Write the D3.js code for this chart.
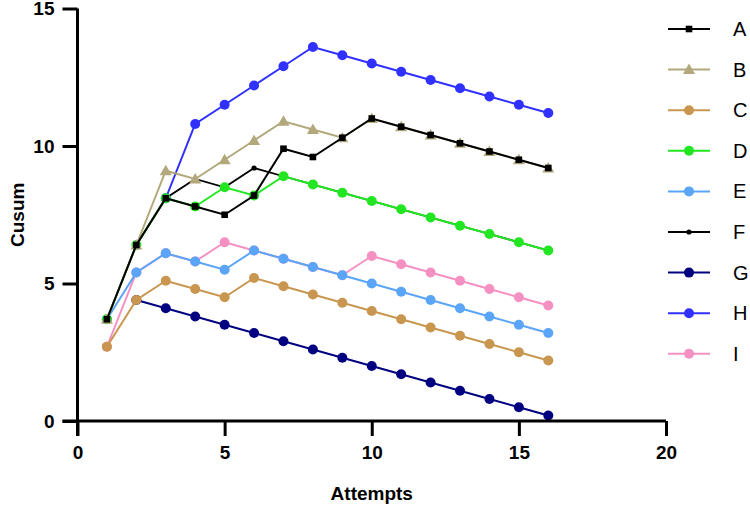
<!DOCTYPE html>
<html lang="en">
  <head>
    <meta charset="UTF-8" />
    <title>Cusum</title>
    <style>
      body { margin: 0; background: #fff; }
      text { font-family: 'Liberation Sans', Arial, sans-serif; }
    </style>
  </head>
  <body>
    <svg id="chart"></svg>
    <script src="https://d3js.org/d3.v7.min.js"></script>
    <script>
      // attempts 1..16, null where a series has no point yet
      const attempts = d3.range(1, 17);
      const seriesNames = ['A', 'B', 'C', 'D', 'E', 'F', 'G', 'H', 'I'];
      const seriesColors = ['#000000', '#b2a87b', '#c8964f', '#22e622', '#5aa5f7', '#000000', '#000080', '#3030ff', '#f590c2'];
      const seriesMarkers = ['square', 'triangle', 'circle', 'circle', 'circle', 'dot', 'circle', 'circle', 'circle'];

      const valuesA = [3.7, 6.4, 8.1, 7.8, 7.5, 8.2, 9.9, 9.6, 10.3, 11.0, 10.7, 10.4, 10.1, 9.8, 9.5, 9.2];
      const valuesB = [3.7, 6.4, 9.1, 8.8, 9.5, 10.2, 10.9, 10.6, 10.3, 11.0, 10.7, 10.4, 10.1, 9.8, 9.5, 9.2];
      const valuesC = [2.7, 4.4, 5.1, 4.8, 4.5, 5.2, 4.9, 4.6, 4.3, 4.0, 3.7, 3.4, 3.1, 2.8, 2.5, 2.2];
      const valuesD = [3.7, 6.4, 8.1, 7.8, 8.5, 8.2, 8.9, 8.6, 8.3, 8.0, 7.7, 7.4, 7.1, 6.8, 6.5, 6.2];
      const valuesE = [3.7, 5.4, 6.1, 5.8, 5.5, 6.2, 5.9, 5.6, 5.3, 5.0, 4.7, 4.4, 4.1, 3.8, 3.5, 3.2];
      const valuesF = [3.7, 6.4, 8.1, 8.8, 8.5, 9.2, 8.9, 8.6, 8.3, 8.0, 7.7, 7.4, 7.1, 6.8, 6.5, 6.2];
      const valuesG = [null, 4.4, 4.1, 3.8, 3.5, 3.2, 2.9, 2.6, 2.3, 2.0, 1.7, 1.4, 1.1, 0.8, 0.5, 0.2];
      const valuesH = [null, null, 8.1, 10.8, 11.5, 12.2, 12.9, 13.6, 13.3, 13.0, 12.7, 12.4, 12.1, 11.8, 11.5, 11.2];
      const valuesI = [2.7, 5.4, 6.1, 5.8, 6.5, 6.2, 5.9, 5.6, 5.3, 6.0, 5.7, 5.4, 5.1, 4.8, 4.5, 4.2];

      const xTicks = [0, 5, 10, 15, 20];
      const yTicks = [0, 5, 10, 15];

      const allValues = [valuesA, valuesB, valuesC, valuesD, valuesE, valuesF, valuesG, valuesH, valuesI];

      let width = 750;
      let height = 505;
      let margin = { top: 8.5, left: 77.5, right: 84, bottom: 84 };

      let svg = d3.select('#chart').attr('width', width).attr('height', height);

      let xScale = d3.scaleLinear().domain([0, 20]).range([margin.left, width - margin.right]);
      let yScale = d3.scaleLinear().domain([0, 15]).range([height - margin.bottom, margin.top]);

      let series = seriesNames.map((name, i) => ({
        name,
        color: seriesColors[i],
        marker: seriesMarkers[i],
        points: attempts
          .map((a, j) => ({ x: a, y: allValues[i][j] }))
          .filter((p) => p.y !== null),
      }));

      function drawMarker(g, type, color, cx, cy) {
        if (type === 'circle') {
          g.append('circle').attr('cx', cx).attr('cy', cy).attr('r', 5).attr('fill', color);
        } else if (type === 'dot') {
          g.append('circle').attr('cx', cx).attr('cy', cy).attr('r', 2.6).attr('fill', color);
        } else if (type === 'square') {
          g.append('rect').attr('x', cx - 3.3).attr('y', cy - 3.3).attr('width', 6.6).attr('height', 6.6).attr('fill', color);
        } else if (type === 'triangle') {
          let s = 6;
          g.append('path')
            .attr('d', `M${cx},${cy - s}L${cx + s},${cy + s * 0.75}L${cx - s},${cy + s * 0.75}Z`)
            .attr('fill', color);
        }
      }

      let line = d3.line().x((d) => xScale(d.x)).y((d) => yScale(d.y));

      // first series ends up on top, so draw in reverse
      let plot = svg.append('g');
      series.slice().reverse().forEach((s) => {
        let g = plot.append('g');
        g.append('path')
          .datum(s.points)
          .attr('d', line)
          .attr('fill', 'none')
          .attr('stroke', s.color)
          .attr('stroke-width', s.marker === 'dot' ? 1.8 : 2);
        s.points.forEach((p) => drawMarker(g, s.marker, s.color, xScale(p.x), yScale(p.y)));
      });

      // axes
      let axisX = d3.axisBottom(xScale).tickValues(xTicks).tickSize(15).tickPadding(10);
      let gx = svg.append('g')
        .attr('transform', `translate(0,${height - margin.bottom})`)
        .call(axisX);

      let axisY = d3.axisLeft(yScale).tickValues(yTicks).tickSize(15).tickPadding(8);
      let gy = svg.append('g')
        .attr('transform', `translate(${margin.left},0)`)
        .call(axisY);

      [gx, gy].forEach((g) => {
        g.select('.domain').attr('stroke', '#000').attr('stroke-width', 3);
        g.selectAll('.tick line').attr('stroke', '#000').attr('stroke-width', 3);
        g.selectAll('.tick text')
          .attr('fill', '#000')
          .style('font-family', "'Liberation Sans', Arial, sans-serif")
          .style('font-size', '19px')
          .style('font-weight', 'bold');
      });
      gx.select('.domain').attr('d', `M${margin.left - 15},0H${width - margin.right}`);
      gy.select('.domain').attr('d', `M0,${yScale(15)}V${height - margin.bottom + 15}`);

      svg.append('text')
        .attr('x', (margin.left + width - margin.right) / 2)
        .attr('y', 500)
        .attr('text-anchor', 'middle')
        .style('font-size', '19px')
        .style('font-weight', 'bold')
        .text('Attempts');

      svg.append('text')
        .attr('transform', `translate(24,${(margin.top + height - margin.bottom) / 2}) rotate(-90)`)
        .attr('text-anchor', 'middle')
        .style('font-size', '19px')
        .style('font-weight', 'bold')
        .text('Cusum');

      // legend
      let legend = svg.append('g');
      series.forEach((s, i) => {
        let y = 29 + i * 40.6;
        let g = legend.append('g');
        g.append('line')
          .attr('x1', 668).attr('x2', 710)
          .attr('y1', y).attr('y2', y)
          .attr('stroke', s.color)
          .attr('stroke-width', s.marker === 'dot' ? 1.8 : 2);
        drawMarker(g, s.marker, s.color, 689, y);
        g.append('text')
          .attr('x', 733)
          .attr('y', y + 7)
          .style('font-size', '20px')
          .text(s.name);
      });
    </script>
  </body>
</html>
